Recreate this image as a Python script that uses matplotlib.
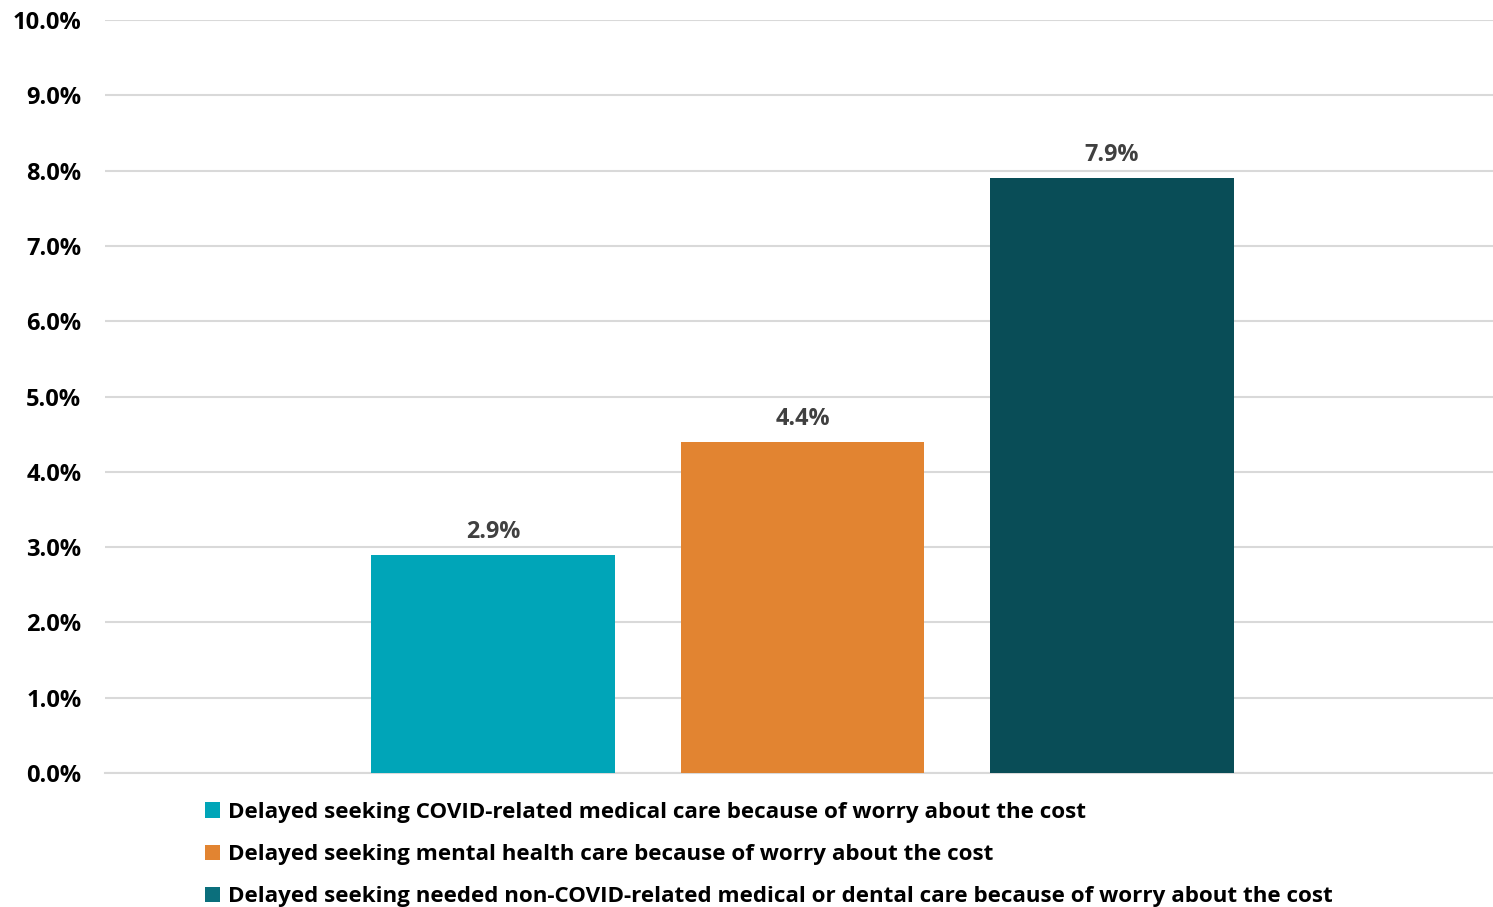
import matplotlib
matplotlib.use('Agg')
import matplotlib.pyplot as plt
from matplotlib.patches import Patch
from matplotlib.ticker import FuncFormatter, MultipleLocator

labels = [
    'Delayed seeking COVID-related medical care because of worry about the cost',
    'Delayed seeking mental health care because of worry about the cost',
    'Delayed seeking needed non-COVID-related medical or dental care because of worry about the cost',
]
values = [2.9, 4.4, 7.9]
bar_colors = ['#00A5B8', '#E28431', '#094D57']
legend_colors = ['#00A5B8', '#E28431', '#0B6F7C']

plt.rcParams['font.family'] = ['Open Sans', 'DejaVu Sans']
plt.rcParams['font.weight'] = 'bold'

fig = plt.figure(figsize=(14.93, 9.07), dpi=100)
ax = fig.add_axes([105 / 1493, 1 - 773 / 907, 1 - 105 / 1493, (773 - 20) / 907])

x = list(range(len(values)))
bars = ax.bar(x, values, width=0.788, color=bar_colors, zorder=3)

for xi, v in zip(x, values):
    ax.annotate(f'{v:.1f}%', (xi, v), xytext=(0, 8), textcoords='offset points',
                ha='center', va='bottom', fontsize=16.8, fontweight='bold', color='#404040')

ax.set_xlim(-1.254, 3.231)
ax.set_ylim(0, 10)
ax.yaxis.set_major_locator(MultipleLocator(1))
ax.yaxis.set_major_formatter(FuncFormatter(lambda v, p: f'{v:.1f}%'))
ax.set_xticks([])
ax.tick_params(axis='y', length=0, pad=17, labelsize=17)
for lbl in ax.get_yticklabels():
    lbl.set_fontweight('bold')
ax.grid(axis='y', color='#D9D9D9', linewidth=1.5, zorder=0)
for side in ['top', 'right', 'left']:
    ax.spines[side].set_visible(False)
ax.spines['bottom'].set_color('#D9D9D9')
ax.spines['bottom'].set_linewidth(1.5)

handles = [Patch(facecolor=c, edgecolor='none') for c in legend_colors]
fig.legend(handles, labels, loc='upper left', bbox_to_anchor=(205 / 1493, 1 - 802 / 907),
           frameon=False, fontsize=16.1, handlelength=0.68, handleheight=0.68,
           handletextpad=0.33, labelspacing=0.94, borderpad=0, borderaxespad=0)

fig.savefig('out.png', dpi=100)
